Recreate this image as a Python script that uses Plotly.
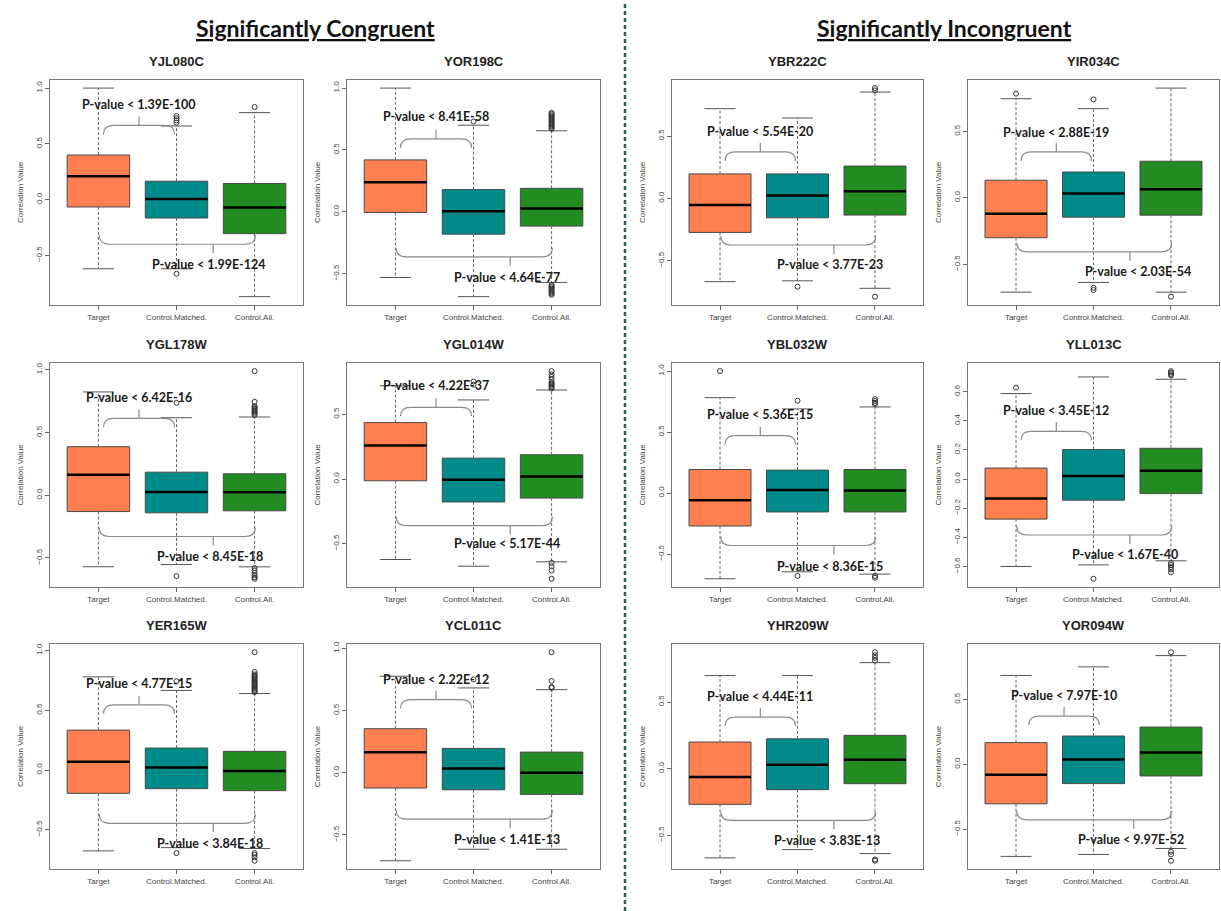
import plotly.graph_objects as go

W, H = 1221, 911

genes = ["YJL080C", "YOR198C", "YBR222C", "YIR034C",
         "YGL178W", "YGL014W", "YBL032W", "YLL013C",
         "YER165W", "YCL011C", "YHR209W", "YOR094W"]
groups = ["Target", "Control.Matched.", "Control.All."]
box_colors = ["#FF7F50", "#008B8B", "#228B22"]

# per panel: [Target, Control.Matched., Control.All.]
upper_whisker = [
    [1.0, 0.66, 0.78], [1.0, 0.70, 0.655], [0.72, 0.645, 0.853], [0.747, 0.672, 0.827],
    [0.824, 0.618, 0.624], [0.722, 0.612, 0.689], [0.782, 0.69, 0.706], [0.586, 0.70, 0.684],
    [0.78, 0.666, 0.64], [0.776, 0.682, 0.668], [0.698, 0.698, 0.795], [0.685, 0.751, 0.838]]
q3 = [
    [0.40, 0.165, 0.145], [0.42, 0.18, 0.19], [0.197, 0.197, 0.26], [0.133, 0.195, 0.276],
    [0.387, 0.184, 0.171], [0.437, 0.162, 0.188], [0.193, 0.188, 0.193], [0.075, 0.202, 0.211],
    [0.334, 0.184, 0.156], [0.354, 0.196, 0.166], [0.20, 0.224, 0.25], [0.167, 0.218, 0.287]]
median = [
    [0.21, 0.005, -0.07], [0.24, 0.005, 0.027], [-0.053, 0.024, 0.059], [-0.12, 0.033, 0.065],
    [0.163, 0.026, 0.024], [0.26, -0.005, 0.02], [-0.06, 0.025, 0.02], [-0.134, 0.02, 0.057],
    [0.07, 0.02, -0.008], [0.164, 0.035, 0.0], [-0.062, 0.03, 0.067], [-0.08, 0.036, 0.09]]
q1 = [
    [-0.066, -0.165, -0.305], [-0.005, -0.18, -0.115], [-0.272, -0.155, -0.133], [-0.30, -0.145, -0.13],
    [-0.13, -0.14, -0.124], [-0.013, -0.177, -0.147], [-0.27, -0.155, -0.155], [-0.275, -0.145, -0.10],
    [-0.195, -0.156, -0.173], [-0.123, -0.137, -0.174], [-0.267, -0.157, -0.112], [-0.305, -0.149, -0.09]]
lower_whisker = [
    [-0.62, -0.62, -0.87], [-0.53, -0.685, -0.57], [-0.667, -0.66, -0.72], [-0.71, -0.637, -0.71],
    [-0.57, -0.553, -0.571], [-0.622, -0.674, -0.64], [-0.703, -0.646, -0.665], [-0.60, -0.589, -0.561],
    [-0.677, -0.65, -0.657], [-0.708, -0.615, -0.615], [-0.668, -0.606, -0.636], [-0.71, -0.695, -0.649]]
outliers = [
    [[], [0.75, 0.73, 0.71, 0.69, -0.665], [0.83]],
    [[], [0.73], [0.80, 0.79, 0.78, 0.77, 0.76, 0.75, 0.74, 0.73, 0.72, 0.71, 0.70, 0.69, 0.68, 0.67,
                  -0.59, -0.60, -0.61, -0.62, -0.63, -0.64, -0.65, -0.66, -0.67]],
    [[], [-0.707], [0.885, 0.867, -0.787]],
    [[0.785], [0.742, -0.677, -0.694], [-0.744]],
    [[], [0.737, -0.645], [0.99, 0.745, 0.71, 0.70, 0.69, 0.68, 0.67, 0.66, 0.65, 0.64,
                           -0.58, -0.60, -0.62, -0.64, -0.655, -0.666]],
    [[], [0.73, 0.755], [0.835, 0.81, 0.79, 0.77, 0.75, 0.74, 0.73, 0.72, 0.71, 0.70,
                         -0.648, -0.674, -0.707, -0.771]],
    [[1.0], [0.757, -0.68], [0.77, 0.755, 0.74, 0.73, -0.68, -0.695]],
    [[0.627], [-0.684], [0.74, 0.73, 0.72, 0.71, -0.577, -0.59, -0.605, -0.62, -0.64]],
    [[], [0.744, -0.696], [0.986, 0.82, 0.80, 0.79, 0.78, 0.77, 0.76, 0.75, 0.74, 0.73, 0.72, 0.71,
                           0.70, 0.69, 0.68, 0.67, 0.66, 0.652, -0.696, -0.71, -0.73, -0.76]],
    [[], [0.75], [0.969, 0.738, 0.69, 0.682]],
    [[], [], [0.873, 0.85, 0.83, 0.81, -0.68, -0.69]],
    [[], [], [0.864, -0.674, -0.695, -0.744]]]
pval_matched = ["1.39E-100", "8.41E-58", "5.54E-20", "2.88E-19", "6.42E-16", "4.22E-37",
                "5.36E-15", "3.45E-12", "4.77E-15", "2.22E-12", "4.44E-11", "7.97E-10"]
pval_all = ["1.99E-124", "4.64E-77", "3.77E-23", "2.03E-54", "8.45E-18", "5.17E-44",
            "8.36E-15", "1.67E-40", "3.84E-18", "1.41E-13", "3.83E-13", "9.97E-52"]

# annotation placement (data units)
bracket_top_y = [0.665, 0.59, 0.373, 0.346, 0.613, 0.555, 0.471, 0.327, 0.546, 0.588, 0.387, 0.372]
bracket_bot_y = [-0.40, -0.363, -0.373, -0.406, -0.329, -0.36, -0.43, -0.384, -0.446, -0.373, -0.387, -0.428]
label_top_y = [0.85, 0.77, 0.533, 0.496, 0.776, 0.722, 0.646, 0.468, 0.724, 0.749, 0.541, 0.531]
label_bot_y = [-0.58, -0.53, -0.533, -0.556, -0.487, -0.50, -0.60, -0.52, -0.613, -0.534, -0.541, -0.582]
bracket_top_x = [0.52] * 11 + [0.62]
bracket_bot_x = [1.47] * 11 + [1.52]
label_bot_x = [1.42, 1.43, 1.42, 1.57, 1.43, 1.43, 1.42, 1.41, 1.43, 1.43, 1.38, 1.48]
ytick_step = [0.5] * 7 + [0.2] + [0.5] * 4

col_px = [(50, 303), (347, 600), (672, 923), (968, 1219)]
row_px = [(77, 303), (361, 586), (643, 869)]

fig = go.Figure()
layout = dict(width=W, height=H, margin=dict(l=0, r=0, t=0, b=0),
              paper_bgcolor="white", plot_bgcolor="white", showlegend=False,
              boxmode="overlay")
shapes = []
annotations = []

tick_font = dict(family="Liberation Sans, Arial", size=8, color="#444")

for i, gene in enumerate(genes):
    r, c = divmod(i, 4)
    xa = "x" if i == 0 else f"x{i+1}"
    ya = "y" if i == 0 else f"y{i+1}"
    xl, xr = col_px[c]
    yt, yb = row_px[r]

    vals = lower_whisker[i] + upper_whisker[i] + [v for g in outliers[i] for v in g]
    vmin, vmax = min(vals), max(vals)
    pad = 0.04 * (vmax - vmin)
    y0, y1 = vmin - pad, vmax + pad
    ppu = (yb - yt) / (y1 - y0)  # pixels per unit

    layout["xaxis" if i == 0 else f"xaxis{i+1}"] = dict(
        domain=[xl / W, xr / W], anchor=ya, range=[-0.62, 2.62],
        tickvals=[0, 1, 2], ticktext=groups, ticks="outside", ticklen=4,
        tickcolor="#666", tickfont=tick_font, showline=True, mirror=True,
        linecolor="#777", linewidth=1, showgrid=False, zeroline=False, fixedrange=True)
    layout["yaxis" if i == 0 else f"yaxis{i+1}"] = dict(
        domain=[1 - yb / H, 1 - yt / H], anchor=xa, range=[y0, y1],
        dtick=ytick_step[i], tick0=0, tickformat=".1f", tickangle=-90,
        ticks="outside", ticklen=4, tickcolor="#666", tickfont=tick_font,
        title=dict(text="Correlation Value", font=tick_font, standoff=9),
        showline=True, mirror=True, linecolor="#777", linewidth=1,
        showgrid=False, zeroline=False, fixedrange=True)

    # whiskers (dashed)
    wx, wy, cx, cy = [], [], [], []
    for j in range(3):
        wx += [j, j, None, j, j, None]
        wy += [q3[i][j], upper_whisker[i][j], None, q1[i][j], lower_whisker[i][j], None]
        cx += [j - 0.2, j + 0.2, None, j - 0.2, j + 0.2, None]
        cy += [upper_whisker[i][j]] * 2 + [None] + [lower_whisker[i][j]] * 2 + [None]
    fig.add_trace(go.Scatter(x=wx, y=wy, mode="lines", xaxis=xa, yaxis=ya,
                             line=dict(color="#666", width=1, dash="3px,2px"), hoverinfo="skip"))
    for j in range(3):
        fig.add_trace(go.Box(x=[j], q1=[q1[i][j]], median=[median[i][j]], q3=[q3[i][j]],
                             lowerfence=[q1[i][j]], upperfence=[q3[i][j]], width=0.8,
                             whiskerwidth=0, fillcolor=box_colors[j],
                             line=dict(color="#4a4a4a", width=1), boxpoints=False,
                             xaxis=xa, yaxis=ya, hoverinfo="skip"))
    mx, my = [], []
    for j in range(3):
        mx += [j - 0.4, j + 0.4, None]
        my += [median[i][j], median[i][j], None]
    fig.add_trace(go.Scatter(x=mx, y=my, mode="lines", xaxis=xa, yaxis=ya,
                             line=dict(color="black", width=2.5), hoverinfo="skip"))
    fig.add_trace(go.Scatter(x=cx, y=cy, mode="lines", xaxis=xa, yaxis=ya,
                             line=dict(color="#555", width=1), hoverinfo="skip"))
    ox, oy = [], []
    for j in range(3):
        ox += [j] * len(outliers[i][j])
        oy += outliers[i][j]
    fig.add_trace(go.Scatter(x=ox, y=oy, mode="markers", xaxis=xa, yaxis=ya,
                             marker=dict(symbol="circle-open", size=5, color="#333",
                                         line=dict(width=1)), hoverinfo="skip"))

    # brackets
    d = 9 / ppu
    rx = 0.13
    tx = bracket_top_x[i]
    a, b, yl = tx - 0.455, tx + 0.455, bracket_top_y[i]
    p_top = (f"M {a},{yl - d} Q {a},{yl} {a + rx},{yl} L {b - rx},{yl} Q {b},{yl} {b},{yl - d} "
             f"M {tx},{yl} L {tx},{yl + d}")
    bx = bracket_bot_x[i]
    a, b, yl = 0.01, 2.01, bracket_bot_y[i]
    p_bot = (f"M {a},{yl + d} Q {a},{yl} {a + rx},{yl} L {b - rx},{yl} Q {b},{yl} {b},{yl + d} "
             f"M {bx},{yl} L {bx},{yl - d}")
    for p in (p_top, p_bot):
        shapes.append(dict(type="path", path=p, xref=xa, yref=ya,
                           line=dict(color="#8a8a8a", width=1.2)))

    pfont = dict(family="Lato, Carlito, sans-serif", size=12.5, color="#1a1a1a")
    annotations.append(dict(text=f"<b>P-value &lt; {pval_matched[i]}</b>", x=tx, y=label_top_y[i],
                            xref=xa, yref=ya, showarrow=False, font=pfont,
                            xanchor="center", yanchor="middle"))
    annotations.append(dict(text=f"<b>P-value &lt; {pval_all[i]}</b>", x=label_bot_x[i], y=label_bot_y[i],
                            xref=xa, yref=ya, showarrow=False, font=pfont,
                            xanchor="center", yanchor="middle"))
    # panel title
    annotations.append(dict(text=f"<b>{gene}</b>", x=(xl + xr) / 2 / W, y=1 - (yt - 18) / H,
                            xref="paper", yref="paper", showarrow=False,
                            font=dict(family="Liberation Sans, Arial", size=13, color="#222"),
                            xanchor="center", yanchor="middle"))

# section headers
hfont = dict(family="Lato, sans-serif", size=23, color="#111")
annotations.append(dict(text="<b><u>Significantly Congruent</u></b>", x=315 / W, y=1 - 25 / H,
                        xref="paper", yref="paper", showarrow=False, font=hfont,
                        xanchor="center", yanchor="middle"))
annotations.append(dict(text="<b><u>Significantly Incongruent</u></b>", x=944 / W, y=1 - 25 / H,
                        xref="paper", yref="paper", showarrow=False, font=hfont,
                        xanchor="center", yanchor="middle"))
shapes.append(dict(type="line", xref="paper", yref="paper", x0=625 / W, x1=625 / W, y0=0, y1=1,
                   line=dict(color="#2F5F62", width=2.5, dash="4px,3px")))

layout["shapes"] = shapes
layout["annotations"] = annotations
fig.update_layout(**layout)
fig.write_html("out.html")
